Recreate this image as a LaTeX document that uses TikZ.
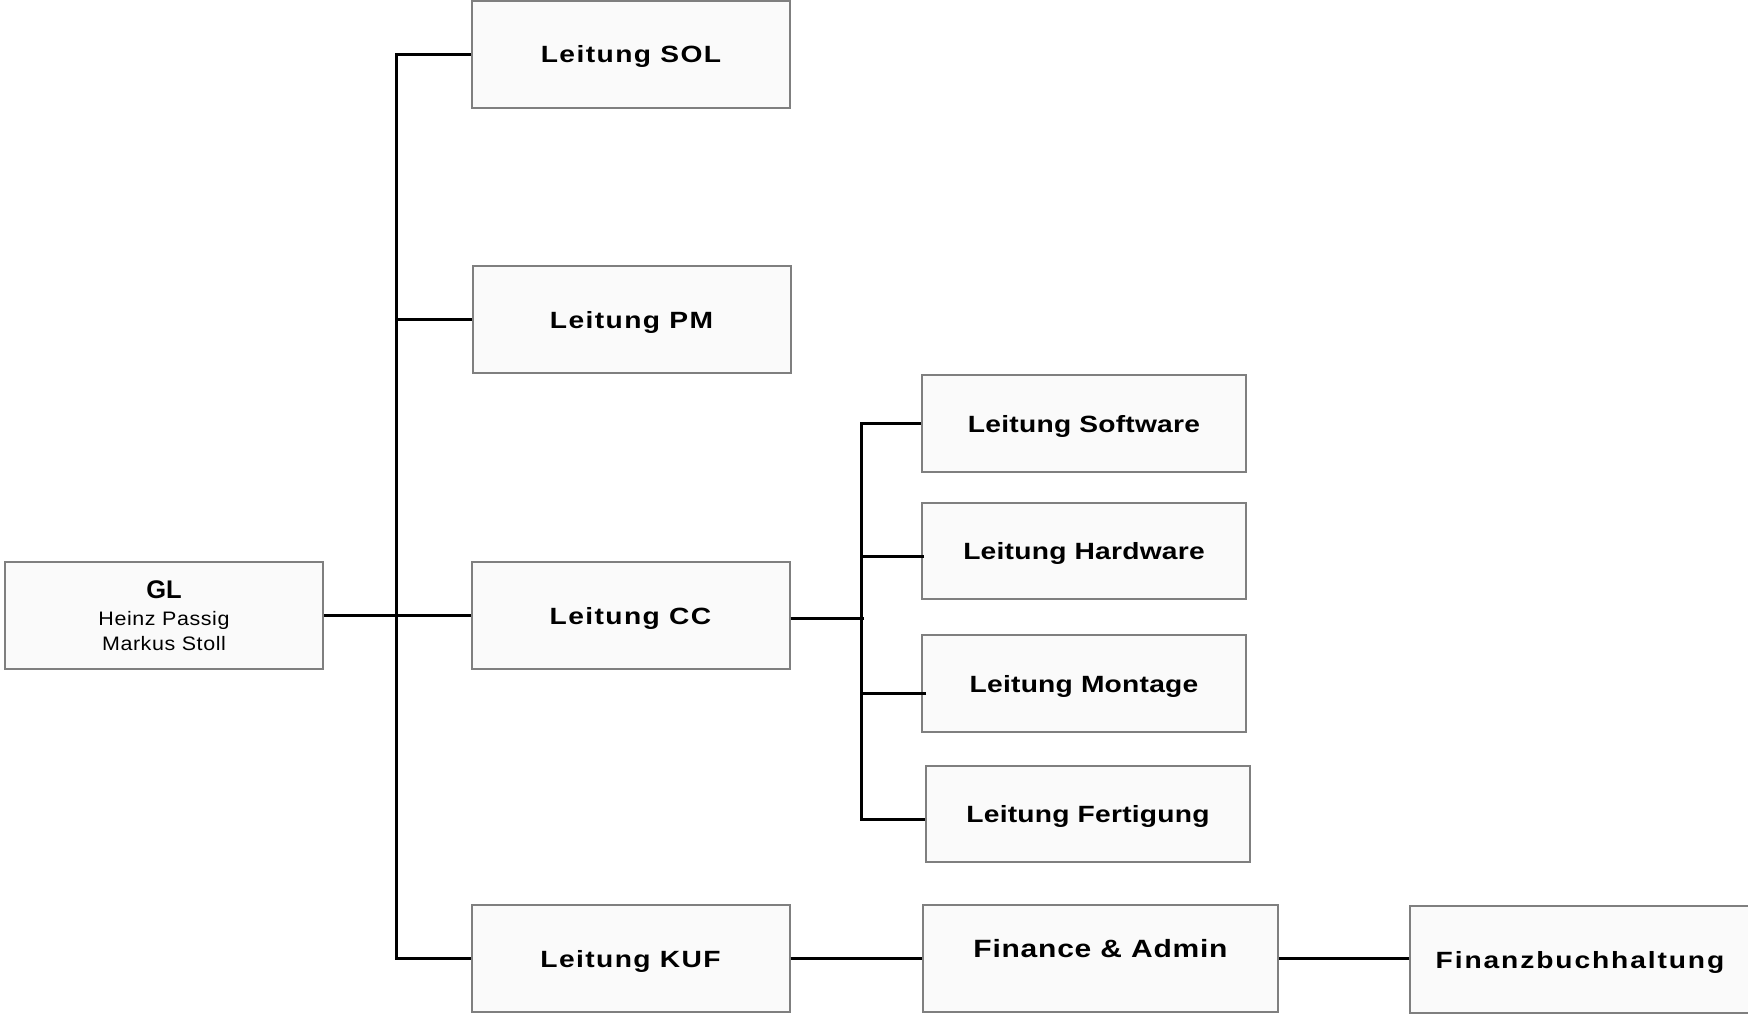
\documentclass[tikz,border=0pt]{standalone}
\usepackage{fontspec}
\setmainfont{Liberation Sans}
\newfontfamily\labf{Liberation Sans}[FakeStretch=1.2, LetterSpace=6]
\newfontfamily\sublabf{Liberation Sans}[FakeStretch=1.2, LetterSpace=1]
\newfontfamily\fibuf{Liberation Sans}[FakeStretch=1.2, LetterSpace=8]
\newfontfamily\finf{Liberation Sans}[FakeStretch=1.2, LetterSpace=3]
\newfontfamily\namef{Liberation Sans}[FakeStretch=1.1, LetterSpace=3]
\definecolor{boxgray}{HTML}{7F7F7F}
\definecolor{boxfill}{HTML}{FAFAFA}
\tikzset{
  boxbase/.style={draw=boxgray, line width=2pt, fill=boxfill, inner sep=0pt,
    minimum width=318pt, minimum height=107pt},
  unit/.style={boxbase, text height=17pt, text depth=0pt,
    font=\labf\bfseries\fontsize{23.5}{28}\selectfont},
  subunit/.style={unit, minimum width=324pt, minimum height=97pt,
    font=\sublabf\bfseries\fontsize{23.5}{28}\selectfont},
  conn/.style={line width=3pt, black}
}
\begin{document}
\begin{tikzpicture}[x=1pt,y=-1pt]
\useasboundingbox (0,0) rectangle (1748,1014);
% boxes
\node[boxbase, align=center, font=\namef\fontsize{19.5}{25}\selectfont] (gl) at (164,615.5)
  {{\fontspec{Liberation Sans}\bfseries\fontsize{25.5}{25}\selectfont GL}\\[2pt]
   Heinz Passig\\
   Markus Stoll};
\node[unit] (sol) at (631,54.5) {Leitung SOL};
\node[unit] (pm) at (631.5,319.5) {Leitung PM};
\node[unit] (cc) at (630.5,615.5) {Leitung CC};
\node[unit] (kuf) at (630.5,958.5) {Leitung KUF};
\node[subunit] (sw) at (1084,423.5) {Leitung Software};
\node[subunit, minimum height=96pt] (hw) at (1084,551) {Leitung Hardware};
\node[subunit] (mo) at (1084,683.5) {Leitung Montage};
\node[subunit, minimum height=96pt] (fe) at (1088,814) {Leitung Fertigung};
\node[unit, minimum width=355pt, text height=36pt, font=\finf\bfseries\fontsize{25}{28}\selectfont] (fa) at (1100.5,958.5) {\raisebox{19pt}{Finance \& Admin}};
\node[unit, minimum width=340pt, font=\fibuf\bfseries\fontsize{23.5}{28}\selectfont] (fibu) at (1580,959.5) {Finanzbuchhaltung};
% connectors
\draw[conn] (sol.west) -- ++(-75,0) |- (kuf.west);
\draw[conn] (pm.west) -- ++(-76,0);
\draw[conn] (gl.east) -- (gl.east -| cc.west);
\draw[conn] ([yshift=-2.5pt]cc.east) -- ++(73,0);
\draw[conn] (sw.west) -- ++(-60,0) |- ([yshift=-5pt]fe.west);
\draw[conn] ([xshift=3pt,yshift=-5pt]hw.west) -- ++(-63,0);
\draw[conn] ([xshift=5pt,yshift=-9.5pt]mo.west) -- ++(-65,0);
\draw[conn] (kuf.east) -- (fa.west);
\draw[conn] (fa.east) -- (fa.east -| fibu.west);
\end{tikzpicture}
\end{document}
